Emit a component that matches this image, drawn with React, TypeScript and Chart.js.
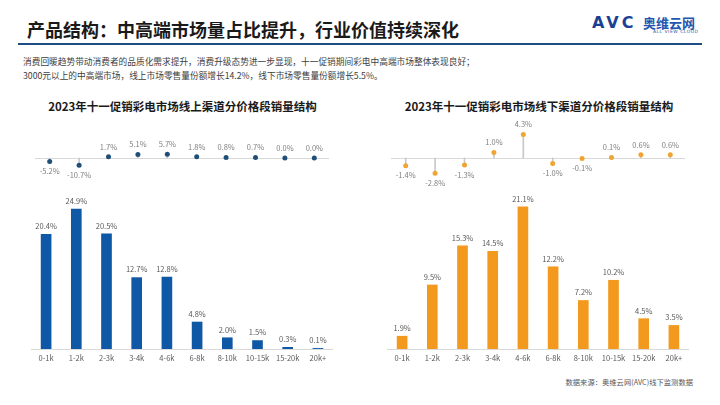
import React, { useEffect, useRef } from "react";
import { Chart, registerables } from "chart.js";
Chart.register(...registerables);

const categories = ["0-1k", "1-2k", "2-3k", "3-4k", "4-6k", "6-8k", "8-10k", "10-15k", "15-20k", "20k+"];
const onlineShare = [20.4, 24.9, 20.5, 12.7, 12.8, 4.8, 2.0, 1.5, 0.3, 0.1];
const onlineChange = [-5.2, -10.7, 1.7, 5.1, 5.7, 1.8, 0.8, 0.7, 0.0, 0.0];
const offlineShare = [1.9, 9.5, 15.3, 14.5, 21.1, 12.2, 7.2, 10.2, 4.5, 3.5];
const offlineChange = [-1.4, -2.8, -1.3, 1.0, 4.3, -1.0, -0.1, 0.1, 0.6, 0.6];

const pageTitle = "产品结构：中高端市场量占比提升，行业价值持续深化";
const bodyLine1 = "消费回暖趋势带动消费者的品质化需求提升，消费升级态势进一步显现，十一促销期间彩电中高端市场整体表现良好；";
const bodyLine2 = "3000元以上的中高端市场，线上市场零售量份额增长14.2%，线下市场零售量份额增长5.5%。";
const leftTitle = "2023年十一促销彩电市场线上渠道分价格段销量结构";
const rightTitle = "2023年十一促销彩电市场线下渠道分价格段销量结构";
const sourceText = "数据来源：奥维云网(AVC)线下监测数据";

const FONT = "'Noto Sans CJK SC', 'Noto Sans', sans-serif";
const LABEL_COLOR = "#595959";

const fmt = (v: number) => v.toFixed(1) + "%";

const barLabelPlugin = {
  id: "barLabels",
  afterDatasetsDraw(chart: any) {
    const ctx = chart.ctx;
    const meta = chart.getDatasetMeta(0);
    const data = chart.data.datasets[0].data as number[];
    ctx.save();
    ctx.font = `7.5px ${FONT}`;
    ctx.fillStyle = LABEL_COLOR;
    ctx.textAlign = "center";
    ctx.textBaseline = "middle";
    meta.data.forEach((el: any, i: number) => {
      ctx.fillText(fmt(data[i]), el.x, el.y - 8);
    });
    ctx.restore();
  },
};

const lollipopPlugin = {
  id: "lollipop",
  beforeDatasetsDraw(chart: any) {
    const ctx = chart.ctx;
    const y0 = chart.scales.y.getPixelForValue(0);
    ctx.save();
    ctx.strokeStyle = "#d9d9d9";
    ctx.lineWidth = 1;
    ctx.beginPath();
    ctx.moveTo(chart.chartArea.left, Math.round(y0) + 0.5);
    ctx.lineTo(chart.chartArea.right, Math.round(y0) + 0.5);
    ctx.stroke();
    ctx.restore();
  },
  afterDatasetsDraw(chart: any) {
    const ctx = chart.ctx;
    const meta = chart.getDatasetMeta(0);
    const data = chart.data.datasets[0].data as number[];
    ctx.save();
    ctx.font = `7.5px ${FONT}`;
    ctx.fillStyle = "#7f7f7f";
    ctx.textAlign = "center";
    ctx.textBaseline = "middle";
    meta.data.forEach((el: any, i: number) => {
      const v = data[i];
      ctx.fillText(fmt(v), el.x, v >= 0 ? el.y - 10 : el.y + 10);
    });
    ctx.restore();
  },
};

function barConfig(values: number[], color: string, yMax: number): any {
  return {
    type: "bar",
    data: {
      labels: categories,
      datasets: [{ data: values, backgroundColor: color, barThickness: 10 }],
    },
    options: {
      animation: false,
      responsive: false,
      maintainAspectRatio: false,
      layout: { padding: 0 },
      plugins: { legend: { display: false }, tooltip: { enabled: false } },
      scales: {
        x: {
          grid: { display: false, drawTicks: false },
          border: { display: true, color: "#d9d9d9", width: 1 },
          ticks: {
            font: { size: 7.5, family: FONT },
            color: LABEL_COLOR,
            padding: 5,
            maxRotation: 0,
            autoSkip: false,
          },
          afterFit: (s: any) => {
            s.height = 16;
          },
        },
        y: { display: false, min: 0, max: yMax },
      },
    },
    plugins: [barLabelPlugin],
  };
}

function lollipopConfig(values: number[], dotColor: string, lim: number): any {
  return {
    type: "bar",
    data: {
      labels: categories,
      datasets: [
        {
          type: "line",
          data: values,
          showLine: false,
          pointRadius: 2.5,
          pointBackgroundColor: dotColor,
          pointBorderWidth: 0,
          order: 0,
        },
        {
          type: "bar",
          data: values,
          backgroundColor: "#c8c8c8",
          barThickness: 1,
          order: 1,
        },
      ],
    },
    options: {
      animation: false,
      responsive: false,
      maintainAspectRatio: false,
      layout: { padding: { top: 10, bottom: 10, left: 0, right: 0 } },
      plugins: { legend: { display: false }, tooltip: { enabled: false } },
      scales: {
        x: { display: false },
        y: { display: false, min: -lim, max: lim },
      },
    },
    plugins: [lollipopPlugin],
  };
}

function ChartBox(props: { left: number; top: number; width: number; height: number; config: any }) {
  const ref = useRef<HTMLCanvasElement>(null);
  const { left, top, width, height, config } = props;
  useEffect(() => {
    if (!ref.current) return;
    const chart = new Chart(ref.current, config);
    return () => chart.destroy();
  }, []);
  return (
    <canvas
      ref={ref}
      width={width}
      height={height}
      style={{ position: "absolute", left, top, width, height }}
    />
  );
}

function Txt(props: { x: number; y: number; size: number; children: any; bold?: boolean; color?: string; align?: "left" | "center" | "right"; w?: number; extra?: any }) {
  const { x, y, size, bold, color, align = "left", w = 600, extra } = props;
  let left = x;
  if (align === "center") left = x - w / 2;
  if (align === "right") left = x - w;
  return (
    <div
      style={{
        position: "absolute",
        left,
        top: y - size / 2,
        width: w,
        height: size,
        lineHeight: `${size}px`,
        fontSize: size,
        fontWeight: bold ? 700 : 400,
        color: color || "#333",
        textAlign: align,
        whiteSpace: "nowrap",
        fontFamily: FONT,
        ...extra,
      }}
    >
      {props.children}
    </div>
  );
}

export default function App() {
  return (
    <div
      style={{
        position: "absolute",
        left: 0,
        top: 0,
        width: 720,
        height: 405,
        background: "#ffffff",
        overflow: "hidden",
        fontFamily: FONT,
      }}
    >
      <Txt x={27} y={29} size={18} bold color="#1a1a1a">{pageTitle}</Txt>
      <div style={{ position: "absolute", left: 18, top: 42.5, width: 684, height: 2, background: "#1d4f82" }} />
      <Txt x={592} y={23} size={16} bold color="#1b3f94" w={50} extra={{ fontFamily: "'DejaVu Sans', sans-serif", fontWeight: 900, letterSpacing: "3px" }}>AVC</Txt>
      <Txt x={643} y={22} size={13} bold color="#2456b0" w={70}>奥维云网</Txt>
      <Txt x={653} y={32.5} size={4.5} color="#2456b0" w={60} extra={{ fontFamily: "'DejaVu Sans', sans-serif", letterSpacing: "0.5px" }}>ALL VIEW CLOUD</Txt>

      <Txt x={23} y={62} size={8.7} color="#404040" w={700}>{bodyLine1}</Txt>
      <Txt x={23} y={76.5} size={8.7} color="#404040" w={700}>{bodyLine2}</Txt>

      <Txt x={182.5} y={107} size={11.5} bold color="#1a1a1a" align="center" w={340}>{leftTitle}</Txt>
      <Txt x={539} y={107} size={11.5} bold color="#1a1a1a" align="center" w={340}>{rightTitle}</Txt>

      <ChartBox left={31} top={118} width={302} height={80} config={lollipopConfig(onlineChange, "#1f4e79", 45)} />
      <ChartBox left={387} top={118} width={302} height={80} config={lollipopConfig(offlineChange, "#f0a432", 5.5)} />

      <ChartBox left={31} top={195} width={302} height={170} config={barConfig(onlineShare, "#0f58a6", 27.4)} />
      <ChartBox left={387} top={195} width={302} height={170} config={barConfig(offlineShare, "#f39a1e", 22.85)} />

      <Txt x={693} y={383} size={7.3} color={LABEL_COLOR} align="right" w={200}>{sourceText}</Txt>
    </div>
  );
}
